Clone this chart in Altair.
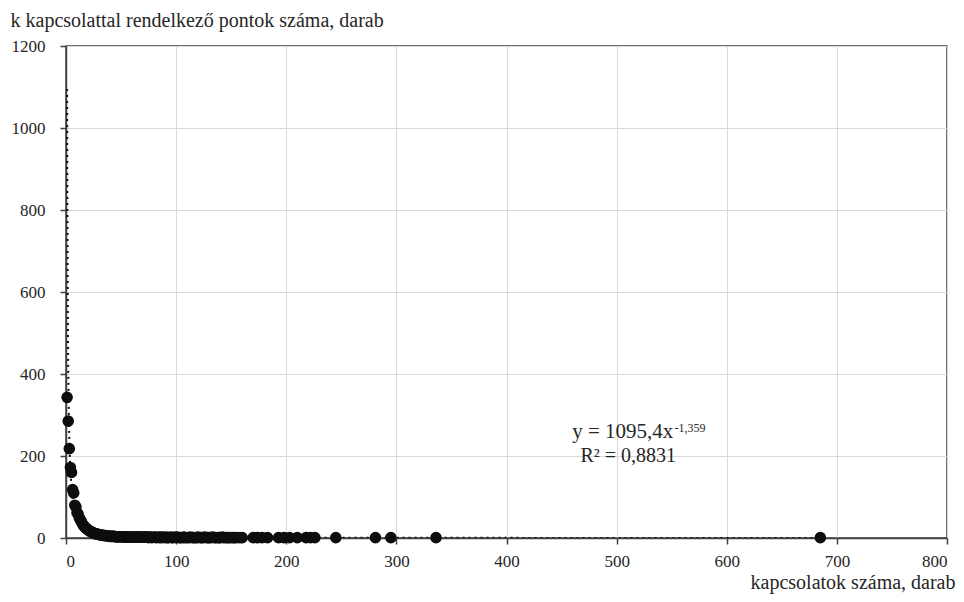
import altair as alt
import pandas as pd

# --- data ---
kapcsolatok = [
    1, 2, 3, 4, 5, 6, 7, 8, 9, 10,
    11, 12, 13, 14, 15, 16, 17, 18, 19, 20,
    21, 22, 23, 24, 25, 26, 27, 28, 29, 30,
    31, 32, 33, 34, 35, 36, 37, 38, 39, 40,
    41, 42, 43, 44, 45, 46, 47, 48, 49, 50,
    51, 52, 53, 54, 55, 56, 57, 58, 59, 60,
    62, 63, 64, 65, 66, 67, 68, 70, 71, 72, 73, 74, 75, 76, 77, 78,
    80, 81, 82, 84, 85, 86, 87, 88, 90, 91, 92, 93, 95, 96, 97, 99,
    100, 101, 103, 104, 106, 107, 108, 110, 112, 113, 115, 116, 118, 119,
    120, 122, 123, 125, 126, 128, 129, 130, 132, 133, 135, 136, 138, 139,
    140, 142, 143, 145, 147, 148, 150, 152, 153, 155, 158, 160,
    170, 174, 178, 183, 193, 198, 203, 210, 218, 222, 226, 245,
    281, 295, 336, 685,
]
pontok = [
    343, 285, 218, 172, 160, 118, 110, 80, 76, 62,
    58, 50, 44, 40, 34, 30, 27, 24, 22, 20,
    18, 16, 15, 14, 12, 11, 10, 10, 9, 8,
    8, 7, 7, 6, 6, 6, 5, 5, 5, 4,
    4, 4, 4, 4, 3, 3, 3, 3, 3, 3,
    3, 3, 2, 2, 2, 2, 2, 2, 2, 2,
    3, 2, 2, 3, 2, 2, 2, 2, 3, 2, 2, 2, 1, 2, 2, 1,
    2, 2, 1, 2, 1, 2, 1, 2, 1, 2, 1, 1, 2, 1, 1, 2,
    1, 2, 1, 1, 1, 2, 1, 1, 1, 2, 1, 1, 1, 1,
    2, 1, 1, 1, 2, 1, 1, 1, 1, 2, 1, 1, 1, 1,
    1, 2, 1, 1, 1, 1, 1, 1, 1, 1, 1, 1,
    1, 1, 1, 1, 1, 1, 1, 1, 1, 1, 1, 1,
    1, 1, 1, 1,
]

# power trend line parameters as printed on the chart
trend_a = 1095.4
trend_b = -1.359
trend_x_start = 1
trend_x_end = max(kapcsolatok)

x_ticks = [0, 100, 200, 300, 400, 500, 600, 700, 800]
y_ticks = [0, 200, 400, 600, 800, 1000, 1200]

x_title = "kapcsolatok száma, darab"
y_title = "k kapcsolattal rendelkező pontok száma, darab"

eq_main = "y = 1095,4x"
eq_sup = "-1,359"
eq_r2 = "R² = 0,8831"

FONT = "Liberation Serif"
AXIS_COLOR = "#404040"
GRID_COLOR = "#d9d9d9"
INK = "#0d0d0d"
TEXT = "#262626"

W, H = 881, 492

df = pd.DataFrame({"k": kapcsolatok, "n": pontok})

x_scale = alt.Scale(domain=[0, 800], nice=False, zero=False)
y_scale = alt.Scale(domain=[0, 1200], nice=False, zero=False)

x_axis = alt.Axis(
    values=x_ticks, format="d", title=x_title, titleAlign="right",
    titleAnchor="end", titleX=889, titleY=50, titleBaseline="alphabetic",
    tickSize=6, labelPadding=9,
)
y_axis = alt.Axis(
    values=y_ticks, format="d", title=y_title, titleAngle=0,
    titleAlign="left", titleAnchor="start", titleX=-56, titleY=-20,
    titleBaseline="alphabetic", tickSize=6, labelPadding=15,
)

trend = (
    alt.Chart(alt.sequence(0, 401, 1, as_="t"))
    .transform_calculate(
        x=f"pow({trend_x_end / trend_x_start}, datum.t / 400) * {trend_x_start}"
    )
    .transform_calculate(y=f"{trend_a} * pow(datum.x, {trend_b})")
    .mark_line(color=INK, strokeWidth=2, strokeDash=[2, 4], clip=True)
    .encode(
        x=alt.X("x:Q", scale=x_scale, axis=x_axis),
        y=alt.Y("y:Q", scale=y_scale, axis=y_axis),
        order="t:Q",
    )
)

points = alt.Chart(df).mark_circle(size=135, color=INK, opacity=1).encode(
    x=alt.X("k:Q", scale=x_scale, axis=x_axis),
    y=alt.Y("n:Q", scale=y_scale, axis=y_axis),
)

ann = pd.DataFrame({
    "x": [551.5, 552.5],
    "y": [243.9, 258.5],
    "text": [eq_main, eq_sup],
})
ann_main = alt.Chart(ann.iloc[[0]]).mark_text(
    font=FONT, fontSize=21, align="right", baseline="alphabetic", color=TEXT
).encode(x=alt.X("x:Q", scale=x_scale), y=alt.Y("y:Q", scale=y_scale), text="text:N")
ann_sup = alt.Chart(ann.iloc[[1]]).mark_text(
    font=FONT, fontSize=12, align="left", baseline="alphabetic", color=TEXT
).encode(x=alt.X("x:Q", scale=x_scale), y=alt.Y("y:Q", scale=y_scale), text="text:N")
r2 = pd.DataFrame({"x": [510.5], "y": [185.4], "text": [eq_r2]})
ann_r2 = alt.Chart(r2).mark_text(
    font=FONT, fontSize=20, align="center", baseline="alphabetic", color=TEXT
).encode(x=alt.X("x:Q", scale=x_scale), y=alt.Y("y:Q", scale=y_scale), text="text:N")

chart = (
    alt.layer(trend, points, ann_main, ann_sup, ann_r2)
    .properties(
        width=W, height=H,
        autosize=alt.AutoSizeParams(type="none"),
        padding={"left": 58, "top": 38, "right": 9, "bottom": 56},
        background="white",
    )
    .configure_axis(
        grid=True, gridColor=GRID_COLOR, gridWidth=1,
        domainColor=AXIS_COLOR, domainWidth=1.5,
        tickColor=AXIS_COLOR, tickWidth=1.5,
        labelFont=FONT, labelFontSize=17, labelColor=TEXT,
        titleFont=FONT, titleFontSize=20, titleFontWeight="normal", titleColor=TEXT,
    )
    .configure_view(stroke=AXIS_COLOR, strokeWidth=1.5)
    .configure_text(font=FONT)
)

chart.save("out.html", embed_options={"renderer": "svg", "actions": False})
